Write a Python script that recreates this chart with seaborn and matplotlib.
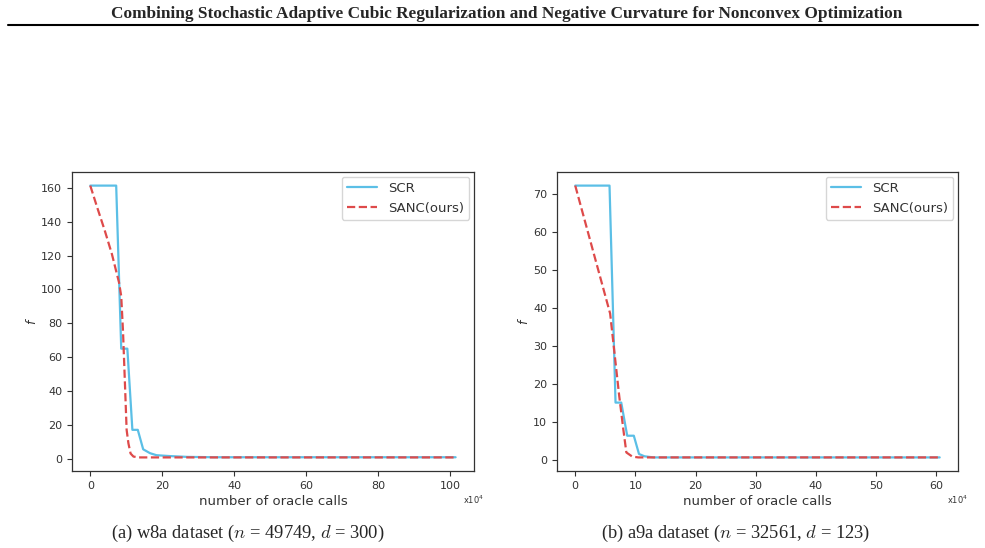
import pandas as pd
import matplotlib
matplotlib.use("Agg")
import matplotlib.pyplot as plt
import seaborn as sns
from matplotlib.lines import Line2D

# w8a: oracle calls (x10^4) vs f
w8a_scr_x = [0, 7.2, 8.6, 10.3, 11.7, 13.2, 14.7, 16.6, 18.4, 22, 27, 35, 101.5]
w8a_scr_y = [161.4, 161.4, 65, 65, 17, 17, 5.5, 3.2, 2.0, 1.5, 1.0, 0.8, 0.8]
w8a_sanc_x = [0, 2, 4, 6, 8, 8.6, 9.1, 9.5, 10.1, 10.6, 11.2, 12, 13.5, 101.5]
w8a_sanc_y = [161.4, 148, 135, 121, 104, 96, 75, 52, 17, 9, 3, 1.2, 0.7, 0.7]

# a9a
a9a_scr_x = [0, 5.7, 6.7, 7.65, 8.64, 9.74, 10.6, 11.5, 13, 60.6]
a9a_scr_y = [72.1, 72.1, 15.1, 15.1, 6.4, 6.4, 1.6, 1.0, 0.7, 0.7]
a9a_sanc_x = [0, 5.8, 6.5, 7.3, 8.0, 8.5, 9.5, 10.5, 60.6]
a9a_sanc_y = [72.1, 38.5, 28.5, 17, 8, 2, 0.9, 0.7, 0.7]

captions = [r"(a) w8a dataset ($n$ = 49749, $d$ = 300)",
            r"(b) a9a dataset ($n$ = 32561, $d$ = 123)"]
title = "Combining Stochastic Adaptive Cubic Regularization and Negative Curvature for Nonconvex Optimization"

scr_color = "#5bbfe6"
sanc_color = "#de4a4a"
dark = "#333333"

sns.set_style("ticks")
plt.rcParams["font.family"] = ["DejaVu Sans"]
plt.rcParams["mathtext.fontset"] = "cm"

fig = plt.figure(figsize=(9.85, 5.48), dpi=100)
ax1 = fig.add_axes([0.0731, 0.1405, 0.408, 0.5456])
ax2 = fig.add_axes([0.5655, 0.1405, 0.407, 0.5456])

panels = [
    (ax1, w8a_scr_x, w8a_scr_y, w8a_sanc_x, w8a_sanc_y, [0, 20, 40, 60, 80, 100], range(0, 161, 20)),
    (ax2, a9a_scr_x, a9a_scr_y, a9a_sanc_x, a9a_sanc_y, [0, 10, 20, 30, 40, 50, 60], range(0, 71, 10)),
]

for ax, sx, sy, ax_, ay, xt, yt in panels:
    scr = pd.DataFrame({"x": sx, "y": sy})
    sanc = pd.DataFrame({"x": ax_, "y": ay})
    sns.lineplot(data=scr, x="x", y="y", ax=ax, color=scr_color, lw=1.6,
                 estimator=None, sort=False)
    sns.lineplot(data=sanc, x="x", y="y", ax=ax, color=sanc_color, lw=1.6,
                 estimator=None, sort=False, linestyle="--")
    ax.set_xticks(xt)
    ax.set_yticks(list(yt))
    ax.tick_params(labelsize=8, colors=dark, length=3.5, width=0.8)
    for s in ax.spines.values():
        s.set_color(dark)
        s.set_linewidth(0.9)
    ax.set_xlabel("number of oracle calls", fontsize=9.5, color=dark, labelpad=3)
    ax.set_ylabel("f", fontsize=9, style="italic", color=dark, labelpad=2)
    ax.text(1.0, -0.095, r"x10$^4$", transform=ax.transAxes, fontsize=6,
            color=dark, ha="center", va="center", math_fontfamily="dejavusans")
    handles = [Line2D([], [], color=scr_color, lw=1.6),
               Line2D([], [], color=sanc_color, lw=1.6, ls="--")]
    leg = ax.legend(handles, ["SCR", "SANC(ours)"], loc="upper right",
                    fontsize=9.5, frameon=True, handlelength=2.3,
                    borderaxespad=0.35)
    for t in leg.get_texts():
        t.set_color(dark)

ax1.margins(x=0.05)
ax2.margins(x=0.05)

fig.text(0.514, 0.975, title, ha="center", va="center", fontsize=12.4,
         fontweight="bold", family="Liberation Serif")
fig.add_artist(Line2D([0.008, 0.993], [0.954, 0.954], color="black", lw=1.5))

fig.text(0.251, 0.027, captions[0], ha="center", va="center", fontsize=13.3,
         family="Liberation Serif")
fig.text(0.747, 0.027, captions[1], ha="center", va="center", fontsize=13.3,
         family="Liberation Serif")

fig.savefig("out.png", dpi=100)
